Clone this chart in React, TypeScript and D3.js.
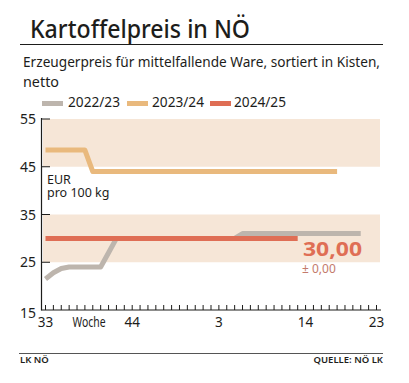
import React from "react";
import * as d3 from "d3";

const weekLabels: number[] = [
  33, 34, 35, 36, 37, 38, 39, 40, 41, 42, 43, 44, 45, 46, 47, 48, 49, 50, 51, 52,
  1, 2, 3, 4, 5, 6, 7, 8, 9, 10, 11, 12, 13, 14, 15, 16, 17, 18, 19, 20, 21, 22, 23,
];
const xTickLabels: { week: number; text: string }[] = [
  { week: 33, text: "33" },
  { week: 44, text: "44" },
  { week: 3, text: "3" },
  { week: 14, text: "14" },
  { week: 23, text: "23" },
];
const yTicks: number[] = [15, 25, 35, 45, 55];
const bands: [number, number][] = [[45, 55], [25, 35]];

const seriesNames: string[] = ["2022/23", "2023/24", "2024/25"];
const seriesColors: string[] = ["#bdb5ad", "#e9b97d", "#df6e55"];

const weeks2223: number[] = [33, 34, 35, 36, 40, 41, 42, 5, 6, 21];
const values2223: number[] = [21.5, 22.8, 23.7, 24, 24, 27, 30, 30, 31, 31];
const weeks2324: number[] = [33, 38, 39, 18];
const values2324: number[] = [48.5, 48.5, 44, 44];
const weeks2425: number[] = [33, 13];
const values2425: number[] = [30, 30];

const currentValue = "30,00";
const changeValue = "± 0,00";

const idx = (w: number) => weekLabels.indexOf(w);

export default function App() {
  const W = 409;
  const H = 383;
  const x = d3.scaleLinear().domain([0, weekLabels.length - 1]).range([45.5, 376.5]);
  const y = d3.scaleLinear().domain([15, 55]).range([310, 119]);
  const axisX = 41.5;
  const bandRight = 380;

  const line = d3
    .line<[number, number]>()
    .x((d) => x(idx(d[0])))
    .y((d) => y(d[1]));

  const series = [
    { weeks: weeks2223, values: values2223 },
    { weeks: weeks2324, values: values2324 },
    { weeks: weeks2425, values: values2425 },
  ];

  const font = "'Noto Sans', 'Open Sans', sans-serif";
  const dark = "#1d1d1b";

  const legendX = [42, 127, 210];
  const legendTextX = [68, 152, 234];

  return (
    <svg
      width={W}
      height={H}
      style={{ position: "absolute", left: 0, top: 0, background: "#fff" }}
      fontFamily={font}
    >
      <rect width={W} height={H} fill="#fff" />
      <text x={30} y={38} fontSize={26} fontWeight={500} fill={dark} textLength={220} lengthAdjust="spacingAndGlyphs">
        Kartoffelpreis in NÖ
      </text>
      <line x1={20} x2={383} y1={44.5} y2={44.5} stroke={dark} strokeWidth={1.2} />
      <text x={23} y={67} fontSize={14.5} fill={dark} textLength={357} lengthAdjust="spacingAndGlyphs">
        Erzeugerpreis für mittelfallende Ware, sortiert in Kisten,
      </text>
      <text x={23} y={87} fontSize={15} fill={dark} textLength={36} lengthAdjust="spacingAndGlyphs">
        netto
      </text>

      {seriesNames.map((n, i) => (
        <g key={n}>
          <rect x={legendX[i]} y={101} width={21} height={5} fill={seriesColors[i]} />
          <text x={legendTextX[i]} y={106.5} fontSize={14} fill={dark} textLength={52} lengthAdjust="spacingAndGlyphs">
            {n}
          </text>
        </g>
      ))}

      {bands.map((b, i) => (
        <rect
          key={i}
          x={axisX + 1.5}
          y={y(b[1])}
          width={bandRight - axisX - 1.5}
          height={y(b[0]) - y(b[1])}
          fill="#f6e6d7"
        />
      ))}

      {yTicks.map((t) => (
        <g key={t}>
          {t !== 15 && (
            <line x1={axisX} x2={axisX + 8.5} y1={y(t)} y2={y(t)} stroke={dark} strokeWidth={1} />
          )}
          <text
            x={36}
            y={y(t) + (t === 15 ? 8 : 5)}
            fontSize={14}
            textAnchor="end"
            fill={dark}
          >
            {t}
          </text>
        </g>
      ))}

      <text x={47} y={183.5} fontSize={12.5} fill={dark}>EUR</text>
      <text x={47} y={197} fontSize={12.5} fill={dark}>pro 100 kg</text>

      {series.map((s, i) => (
        <path
          key={i}
          d={line(s.weeks.map((w, j) => [w, s.values[j]] as [number, number])) || ""}
          fill="none"
          stroke={seriesColors[i]}
          strokeWidth={5}
          strokeLinejoin="round"
        />
      ))}

      <line x1={axisX} x2={axisX} y1={y(55) - 1} y2={310.5} stroke={dark} strokeWidth={1.2} />
      <line x1={axisX} x2={bandRight + 1} y1={310} y2={310} stroke={dark} strokeWidth={1.2} />
      {weekLabels.map((w, i) => (
        <line key={i} x1={x(i)} x2={x(i)} y1={310} y2={305} stroke={dark} strokeWidth={1} />
      ))}
      {xTickLabels.map((t) => (
        <text
          key={t.text}
          x={x(idx(t.week))}
          y={327}
          fontSize={13.5}
          textAnchor="middle"
          fill={dark}
        >
          {t.text}
        </text>
      ))}
      <text x={89} y={327} fontSize={14} textAnchor="middle" fill={dark} textLength={33} lengthAdjust="spacingAndGlyphs">
        Woche
      </text>

      <text x={303} y={256} fontSize={20} fontWeight={700} fill="#df6e55" textLength={59} lengthAdjust="spacingAndGlyphs">
        {currentValue}
      </text>
      <text x={302} y={273} fontSize={12} fill="#c47a6c">
        {changeValue}
      </text>

      <line x1={19} x2={383} y1={353.5} y2={353.5} stroke="#555" strokeWidth={1} />
      <text x={20} y={363} fontSize={9.5} fontWeight={600} fill={dark}>LK NÖ</text>
      <text x={383} y={363} fontSize={9.5} fontWeight={600} textAnchor="end" fill={dark}>
        QUELLE: NÖ LK
      </text>
    </svg>
  );
}
